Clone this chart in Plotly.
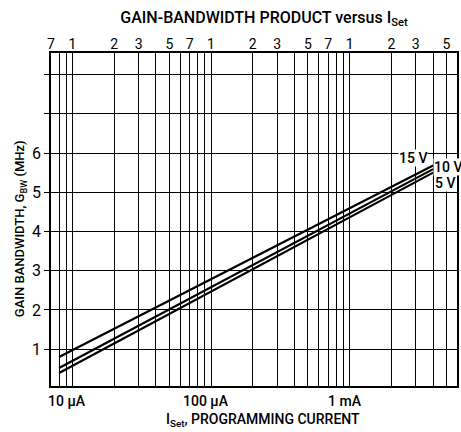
import numpy as np
import plotly.graph_objects as go

# ---- data ----
current_uA = [8, 4000]                 # programming current, µA
gbw_15v = [0.80, 5.68]                 # MHz
gbw_10v = [0.52, 5.59]
gbw_5v = [0.39, 5.50]
series_names = ["15 V", "10 V", "5 V"]
label_pos_uA = [2880, 4000, 4050]
label_pos_gbw = [5.88, 5.65, 5.24]
label_anchor = ["center", "left", "left"]

grid_x = [8, 9, 10, 20, 30, 40, 50, 60, 70, 80, 90, 100, 200, 300, 400, 500, 600,
          700, 800, 900, 1000, 2000, 3000, 4000, 5000, 6000]
top_tick_vals = [7, 10, 20, 30, 50, 70, 100, 200, 300, 500, 700, 1000, 2000, 3000, 5000]
top_tick_text = ["7", "1", "2", "3", "5", "7", "1", "2", "3", "5", "7", "1", "2", "3", "5"]
bottom_label_vals = [10, 100, 1000]
bottom_label_text = ["10 \u03bcA", "100 \u03bcA", "1 mA"]
y_grid = [1, 2, 3, 4, 5, 6, 7, 8]
y_tick_text = ["1", "2", "3", "4", "5", "6", "", ""]

NARROW = "Roboto, Liberation Sans Narrow, DejaVu Sans Condensed, sans-serif"
REG = "Roboto, Liberation Sans, Arial, sans-serif"

W, H = 461, 432
L, R, T, B = 51, 2, 53, 46
PW, PH = W - L - R, H - T - B

fig = go.Figure()
for vals in (gbw_15v, gbw_10v, gbw_5v):
    fig.add_trace(go.Scatter(x=current_uA, y=vals, mode="lines",
                             line=dict(color="black", width=2.2),
                             showlegend=False, hoverinfo="skip"))
# invisible trace to keep the top axis alive
fig.add_trace(go.Scatter(x=current_uA, y=gbw_5v, xaxis="x2", mode="lines",
                         line=dict(width=0), opacity=0, showlegend=False,
                         hoverinfo="skip"))

xr = [np.log10(7.0), np.log10(5950)]
yr = [0.06, 8.55]

fig.update_layout(
    width=W, height=H,
    margin=dict(l=L, r=R, t=T, b=B),
    paper_bgcolor="white", plot_bgcolor="white",
    xaxis=dict(type="log", range=xr, tickmode="array", tickvals=grid_x,
               ticktext=[""] * len(grid_x), showgrid=True, gridcolor="black",
               gridwidth=1.3, ticks="", showline=True, linecolor="black",
               linewidth=1.5, mirror=True, zeroline=False),
    xaxis2=dict(type="log", range=xr, overlaying="x", side="top", anchor="y",
                tickmode="array", tickvals=top_tick_vals, ticktext=top_tick_text,
                showgrid=False, ticks="", showline=False, zeroline=False,
                tickfont=dict(family=NARROW, size=14, color="black")),
    yaxis=dict(range=yr, tickmode="array", tickvals=y_grid, ticktext=y_tick_text,
               showgrid=True, gridcolor="black", gridwidth=1.3, ticks="outside",
               ticklen=5, tickcolor="black", tickwidth=1.3,
               showline=True, linecolor="black", linewidth=1.5, mirror=True,
               zeroline=False, tickfont=dict(family=NARROW, size=16, color="black")),
    title=dict(text="GAIN-BANDWIDTH PRODUCT versus I<sub>Set</sub>",
               x=264 / W, xanchor="center", y=1 - 17 / H, yanchor="middle",
               xref="container", yref="container",
               font=dict(family=REG, size=16, color="black", weight=500)),
)

annotations = []
for v, t in zip(bottom_label_vals, bottom_label_text):
    annotations.append(dict(x=np.log10(v), xref="x", y=0, yref="paper",
                            text=t, showarrow=False, yanchor="top", xanchor="center",
                            xshift=-5, yshift=-5,
                            font=dict(family=NARROW, size=14, color="black", weight=500)))
for name, xv, yv, anc in zip(series_names, label_pos_uA, label_pos_gbw, label_anchor):
    annotations.append(dict(x=np.log10(xv), xref="x", y=yv, yref="y", text=name,
                            showarrow=False, bgcolor="white", borderpad=0,
                            xanchor=anc,
                            font=dict(family=NARROW, size=14, color="black", weight=500)))
annotations.append(dict(x=(264 - L) / PW, xref="paper", y=(H - B - 420) / PH,
                        yref="paper",
                        text="I<sub>Set</sub>, PROGRAMMING CURRENT", showarrow=False,
                        xanchor="center", yanchor="middle",
                        font=dict(family=NARROW, size=14, color="black", weight=500)))
annotations.append(dict(x=-(L - 20) / PW, xref="paper", y=(H - B - 229) / PH,
                        yref="paper",
                        text="GAIN BANDWIDTH, G<sub>BW</sub> (MHz)", showarrow=False,
                        textangle=-90, xanchor="center", yanchor="middle",
                        font=dict(family=NARROW, size=13, color="black", weight=500)))
fig.update_layout(annotations=annotations)

fig.write_html("out.html",
               config={"displayModeBar": False},
               post_script="document.body.style.margin='0';"
                           "document.body.style.padding='0';")
